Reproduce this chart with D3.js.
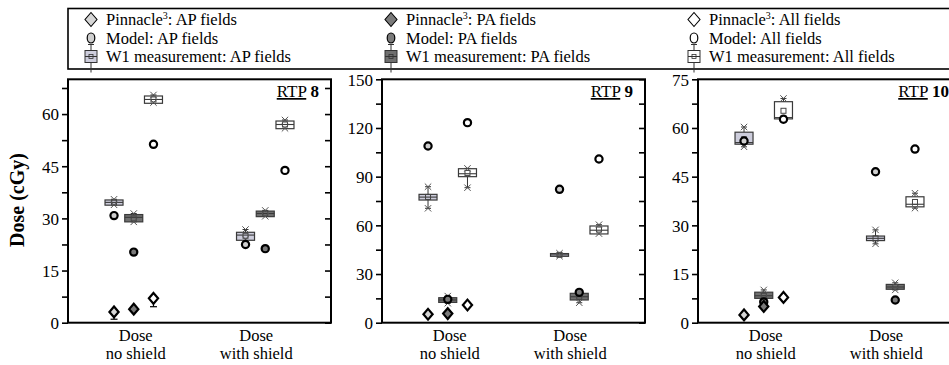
<!DOCTYPE html>
<html><head><meta charset="utf-8">
<script src="https://cdn.jsdelivr.net/npm/d3@7"></script>
<style>
body{margin:0;background:#fff;}
svg text{font-family:"Liberation Serif","Times New Roman",serif;fill:#000;}
</style></head>
<body><svg id="c" width="949" height="365" font-family="Liberation Serif, serif"></svg>
<script>
// ---------- data ----------
const categories = [["Dose","no shield"],["Dose","with shield"]];
const seriesNames = ["AP fields","PA fields","All fields"];
const rtpNumbers = ["8","9","10"];
const yMaxes = [70,150,75];
const yMajorSteps = [15,30,15];
// W1 measurement box stats per category: [min, q1, median, q3, max, mean]
const w1_8_AP  = [[33.9,33.8,34.6,35.3,35.5,34.6],[24.0,23.7,25.2,26.0,26.8,25.0]];
const w1_8_PA  = [[29.0,29.0,30.3,31.1,31.4,30.0],[30.6,30.5,31.4,32.1,32.3,31.4]];
const w1_8_All = [[63.3,63.1,64.2,65.2,65.5,64.2],[55.9,55.8,57.0,58.0,58.3,57.0]];
const w1_9_AP  = [[70.5,75.6,77.4,79.1,83.8,77.5],[41.0,40.9,41.8,42.6,42.8,41.8]];
const w1_9_PA  = [[12.0,12.5,14.0,15.4,16.4,14.0],[12.3,14.0,16.0,18.1,18.3,16.0]];
const w1_9_All = [[83.2,90.0,91.8,94.9,95.1,92.3],[54.9,54.7,57.0,59.6,60.4,57.4]];
const w1_10_AP  = [[54.2,55.0,55.5,58.7,60.3,56.5],[24.3,25.3,26.0,26.7,28.6,26.0]];
const w1_10_PA  = [[7.5,7.5,8.3,9.4,10.1,8.3],[10.1,10.3,11.0,11.8,12.3,11.0]];
const w1_10_All = [[62.8,62.8,63.2,68.1,69.1,65.3],[35.3,35.7,36.5,38.8,39.9,37.2]];
// Model values: [no shield, with shield] for AP, PA, All
const model_8  = [[30.8,22.5],[20.3,21.3],[51.3,43.8]];
const model_9  = [[108.9,82.2],[14.4,18.7],[123.3,100.9]];
const model_10 = [[56.0,46.5],[6.4,7.0],[62.7,53.5]];
// Pinnacle (no shield only): AP, PA, All ; lower error bound
const pinnacle_8  = [3.1,3.9,7.0];
const pinnacleLow_8 = [1.0,3.4,4.6];
const pinnacle_9  = [5.2,5.6,10.9];
const pinnacleLow_9 = [5.2,5.6,10.9];
const pinnacle_10 = [2.4,5.0,7.8];
const pinnacleLow_10 = [2.4,5.0,7.8];

const w1Sets = [[w1_8_AP,w1_8_PA,w1_8_All],[w1_9_AP,w1_9_PA,w1_9_All],[w1_10_AP,w1_10_PA,w1_10_All]];
const modelSets = [model_8, model_9, model_10];
const pinSets = [pinnacle_8, pinnacle_9, pinnacle_10];
const pinLowSets = [pinnacleLow_8, pinnacleLow_9, pinnacleLow_10];

// ---------- styles ----------
const FONT = '"Liberation Serif","Times New Roman",serif';
const boxFill = ["#cdcddc","#6f6f6f","#ffffff"];
const modelFill = ["#cfcfcf","#7a7a7a","#ffffff"];
const pinFill = ["#d6d6d6","#7a7a7a","#ffffff"];
const seriesOffset = [-0.15,0,0.15];

const svg = d3.select("#c");
const panelLefts = [68,382,698];
const panelW = 263;
const plotTop = 79.3, plotBottom = 322.7;

function diamondPath(cx,cy,hw,hh){return `M${cx},${cy-hh}L${cx+hw},${cy}L${cx},${cy+hh}L${cx-hw},${cy}Z`;}

panelLefts.forEach((L,p)=>{
  const x = d3.scaleLinear().domain([0.5,2.5]).range([L,L+panelW]);
  const y = d3.scaleLinear().domain([0,yMaxes[p]]).range([plotBottom,plotTop]);
  const g = svg.append("g");
  const majors = d3.range(0,yMaxes[p]+0.01,yMajorSteps[p]);
  const minors = d3.range(0,yMaxes[p]+0.01,yMajorSteps[p]/2);
  const la = g.append("g").attr("transform",`translate(${L},0)`)
    .call(d3.axisLeft(y).tickValues(minors).tickSize(6).tickFormat(d=> majors.some(m=>Math.abs(m-d)<1e-6)? d3.format("d")(d):""));
  la.attr("font-family",null);
  la.select(".domain").remove();
  la.selectAll("line").attr("stroke","#000").attr("stroke-width",1.6);
  la.selectAll("text").attr("font-size",17).attr("x",-9).attr("dy","0.34em").style("font-family",FONT);
  const ra = g.append("g").attr("transform",`translate(${L+panelW},0)`)
    .call(d3.axisLeft(y).tickValues(minors).tickSize(6).tickFormat(""));
  ra.select(".domain").remove();
  ra.selectAll("line").attr("stroke","#000").attr("stroke-width",1.6);
  g.append("rect").attr("x",L).attr("y",plotTop).attr("width",panelW).attr("height",plotBottom-plotTop)
    .attr("fill","none").attr("stroke","#000").attr("stroke-width",2);
  const labOff = [2,-9];
  categories.forEach((c,ci)=>{
    const t = g.append("text").attr("text-anchor","middle").attr("font-size",16.5).style("font-family",FONT);
    t.append("tspan").attr("x",x(ci+1)+labOff[ci]).attr("y",341).text(c[0]);
    t.append("tspan").attr("x",x(ci+1)+labOff[ci]).attr("y",359).text(c[1]);
  });
  const rt = g.append("text").attr("x",L+panelW-12).attr("y",97).attr("text-anchor","end").attr("font-size",17).style("font-family",FONT);
  rt.append("tspan").attr("text-decoration","underline").text("RTP");
  rt.append("tspan").text(" ");
  rt.append("tspan").attr("font-weight","bold").text(rtpNumbers[p]);

  const bw = 18;
  w1Sets[p].forEach((s,si)=>{
    s.forEach((st,ci)=>{
      const cx = x(ci+1+seriesOffset[si]);
      const [mn,q1,md,q3,mx,mean] = st;
      const bg = g.append("g");
      bg.append("line").attr("x1",cx).attr("x2",cx).attr("y1",y(q3)).attr("y2",y(mx)).attr("stroke","#333").attr("stroke-width",1);
      bg.append("line").attr("x1",cx).attr("x2",cx).attr("y1",y(q1)).attr("y2",y(mn)).attr("stroke","#333").attr("stroke-width",1);
      [mn,mx].forEach(v=>{
        bg.append("line").attr("x1",cx-3).attr("x2",cx+3).attr("y1",y(v)).attr("y2",y(v)).attr("stroke","#333").attr("stroke-width",1);
      });
      bg.append("rect").attr("x",cx-bw/2).attr("y",y(q3)).attr("width",bw).attr("height",Math.max(1,y(q1)-y(q3)))
        .attr("fill",boxFill[si]).attr("stroke","#3a3a3a").attr("stroke-width",1.2);
      bg.append("line").attr("x1",cx-bw/2).attr("x2",cx+bw/2).attr("y1",y(md)).attr("y2",y(md)).attr("stroke","#3a3a3a").attr("stroke-width",1.1);
      bg.append("rect").attr("x",cx-2.5).attr("y",y(mean)-2.5).attr("width",5).attr("height",5)
        .attr("fill","none").attr("stroke","#444").attr("stroke-width",1);
      [mn,mx].forEach(v=>{
        const yy=y(v), s2=3.2;
        bg.append("path").attr("d",`M${cx-s2},${yy-s2}L${cx+s2},${yy+s2}M${cx-s2},${yy+s2}L${cx+s2},${yy-s2}`)
          .attr("stroke","#555").attr("stroke-width",1);
      });
    });
  });
  modelSets[p].forEach((vals,si)=>{
    vals.forEach((v,ci)=>{
      g.append("circle").attr("cx",x(ci+1+seriesOffset[si])).attr("cy",y(v)).attr("r",3.6)
        .attr("fill",modelFill[si]).attr("stroke","#000").attr("stroke-width",2.2);
    });
  });
  pinSets[p].forEach((v,si)=>{
    const cx = x(1+seriesOffset[si]);
    const lo = pinLowSets[p][si];
    if (lo < v - 0.5){
      g.append("line").attr("x1",cx).attr("x2",cx).attr("y1",y(v)).attr("y2",y(lo)).attr("stroke","#000").attr("stroke-width",1.2);
      g.append("line").attr("x1",cx-3.5).attr("x2",cx+3.5).attr("y1",y(lo)).attr("y2",y(lo)).attr("stroke","#000").attr("stroke-width",1.2);
    }
    g.append("path").attr("d",diamondPath(cx,y(v),4.6,5.4))
      .attr("fill",pinFill[si]).attr("stroke","#000").attr("stroke-width",2.2);
  });
});

svg.append("text").attr("transform","translate(24,200) rotate(-90)").attr("text-anchor","middle")
  .attr("font-size",20).attr("font-weight","bold").style("font-family",FONT).text("Dose (cGy)");

// ---------- legend ----------
const lg = svg.append("g");
lg.append("rect").attr("x",68).attr("y",8.5).attr("width",900).attr("height",60.5)
  .attr("fill","#fff").attr("stroke","#000").attr("stroke-width",1.6);
const legX = [91,391,694];
const rowY = [19.5,38,56.5];
seriesNames.forEach((nm,si)=>{
  const sx = legX[si];
  lg.append("path").attr("d",diamondPath(sx,rowY[0],6,7)).attr("fill",pinFill[si]).attr("stroke","#000").attr("stroke-width",1.1);
  const pt = lg.append("text").attr("x",sx+15).attr("y",rowY[0]+5.5).attr("font-size",16.5).style("font-family",FONT);
  pt.append("tspan").text("Pinnacle");
  pt.append("tspan").attr("font-size",10).attr("dy",-6).text("3");
  pt.append("tspan").attr("dy",6).text(": " + nm);
  lg.append("ellipse").attr("cx",sx).attr("cy",rowY[1]).attr("rx",3.8).attr("ry",5)
    .attr("fill",modelFill[si]).attr("stroke","#000").attr("stroke-width",1.2);
  lg.append("text").attr("x",sx+15).attr("y",rowY[1]+5.5).attr("font-size",16.5).style("font-family",FONT).text("Model: "+nm);
  lg.append("line").attr("x1",sx).attr("x2",sx).attr("y1",rowY[2]-12).attr("y2",rowY[2]+16).attr("stroke","#333").attr("stroke-width",1);
  lg.append("line").attr("x1",sx-3).attr("x2",sx+3).attr("y1",rowY[2]-12).attr("y2",rowY[2]-12).attr("stroke","#333").attr("stroke-width",1);
  lg.append("rect").attr("x",sx-6).attr("y",rowY[2]-6).attr("width",12).attr("height",12)
    .attr("fill",boxFill[si]).attr("stroke","#333").attr("stroke-width",1);
  lg.append("line").attr("x1",sx-6).attr("x2",sx+6).attr("y1",rowY[2]).attr("y2",rowY[2]).attr("stroke","#333").attr("stroke-width",1);
  lg.append("rect").attr("x",sx-2).attr("y",rowY[2]-2).attr("width",4).attr("height",4).attr("fill","none").attr("stroke","#333").attr("stroke-width",0.8);
  lg.append("text").attr("x",sx+15).attr("y",rowY[2]+5.5).attr("font-size",16.5).style("font-family",FONT).text("W1 measurement: "+nm);
});
</script></body></html>
